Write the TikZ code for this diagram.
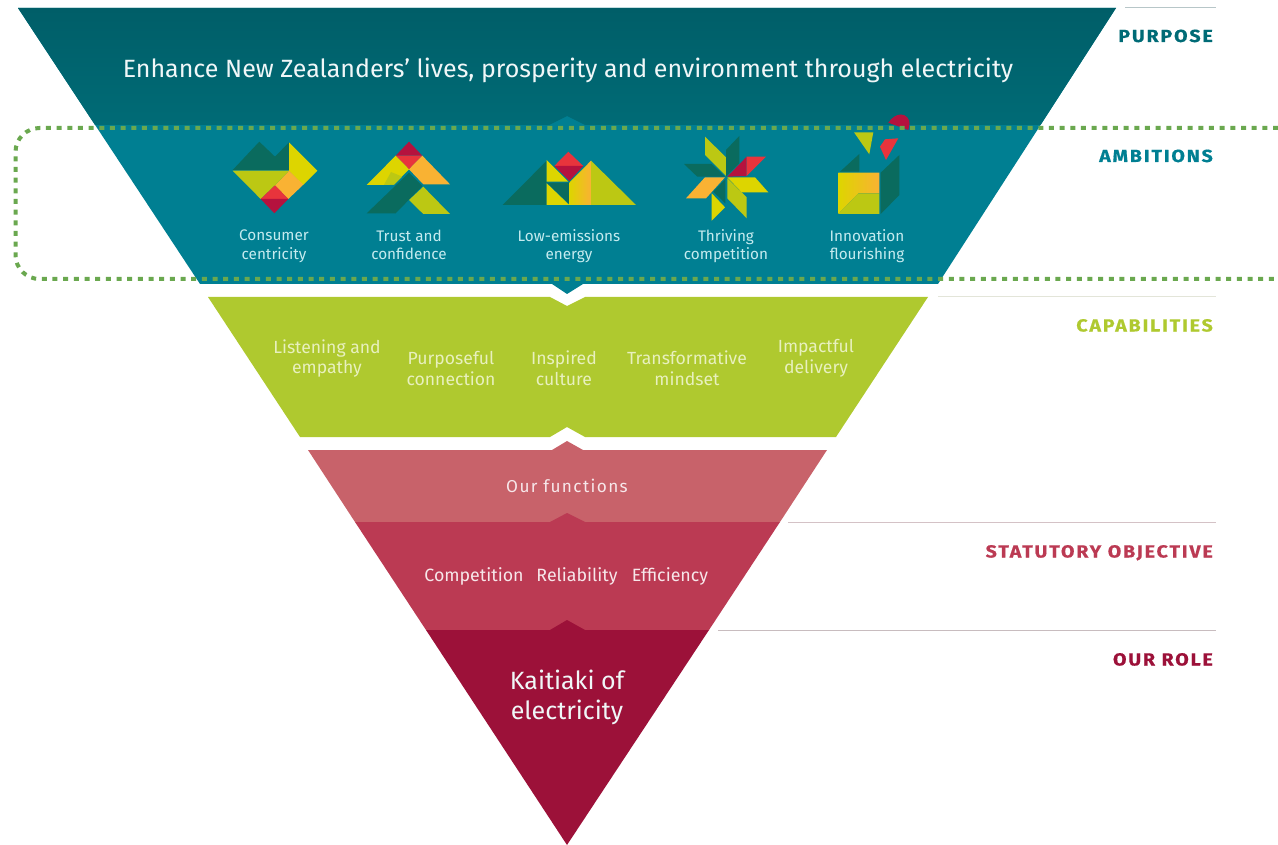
\documentclass[tikz,border=0pt]{standalone}
\usepackage{fontspec}
\setmainfont{Fira Sans}
\newfontfamily\lblfont[LetterSpace=10.5,FakeStretch=1.12,FakeBold=0.6]{Fira Sans}
\newfontfamily\trackfont[LetterSpace=8]{Fira Sans}
\definecolor{tealdarktop}{HTML}{005E68}
\definecolor{tealdarkbot}{HTML}{006B76}
\definecolor{tealmid}{HTML}{007F92}
\definecolor{lime}{HTML}{AFC92F}
\definecolor{redlight}{HTML}{C8626A}
\definecolor{redmid}{HTML}{BB3A53}
\definecolor{reddark}{HTML}{9C1139}
\definecolor{idark}{HTML}{0A6B5E}
\definecolor{iyellow}{HTML}{DDD500}
\definecolor{ilime}{HTML}{BCC813}
\definecolor{iorange}{HTML}{F9B233}
\definecolor{ired}{HTML}{E8343C}
\definecolor{icrim}{HTML}{B5123E}
\definecolor{dots}{HTML}{6AA84F}
\definecolor{ambtext}{HTML}{C5EBEF}
\definecolor{captext}{HTML}{E8F0BE}
\tikzset{
  bigtxt/.style={text=white!94!tealmid,font=\fontsize{25}{30}\selectfont,align=center,inner sep=0pt},
  ambtxt/.style={text=ambtext,font=\fontsize{15.3}{18.5}\selectfont,align=center,inner sep=0pt},
  captxt/.style={text=captext,font=\fontsize{17.6}{20.5}\selectfont,align=center,inner sep=0pt},
  redtxt/.style={text=white!88!redmid,font=\fontsize{17.8}{20}\selectfont,align=center,inner sep=0pt},
  lbl/.style={font=\lblfont\bfseries\fontsize{17.5}{20}\selectfont,anchor=base east,inner sep=0pt},
  rulel/.style={line width=1pt}
}
\begin{document}
\begin{tikzpicture}[x=1pt,y=-1pt]
\useasboundingbox (0,0) rectangle (1278,845);
\fill[tealmid] (18,8) -- (1116,8) -- (938,284) -- (583,284) -- (567,294) -- (552,284) -- (200,284) -- cycle;
\shade[top color=tealdarktop,bottom color=tealdarkbot] (18,8) -- (1116,8) -- (1040.5,125) -- (585,125) -- (567,116) -- (549,125) -- (95,125) -- cycle;
\fill[lime] (208,297) -- (550,297) -- (567,306) -- (585,297) -- (928,297) -- (836,437) -- (585,437) -- (567,427) -- (550,437) -- (300,437) -- cycle;
\fill[redlight] (308,450) -- (552,450) -- (567,441) -- (583,450) -- (827,450) -- (780,522) -- (355,522) -- cycle;
\fill[redmid] (355,522) -- (550,522) -- (567,513) -- (585,522) -- (780,522) -- (709,630) -- (426,630) -- cycle;
\fill[reddark] (426,630) -- (550,630) -- (567,620) -- (585,630) -- (709,630) -- (567,845) -- cycle;
% rules
\draw[rulel,color=tealmid!25!gray!45] (1125,8) -- (1216,8);
\draw[rulel,color=lime!30!gray!25] (938,297) -- (1216,297);
\draw[rulel,color=redmid!35!gray!40] (788,522) -- (1216,522);
\draw[rulel,color=reddark!20!gray!45] (718,630) -- (1216,630);
% icon 1
\fill[idark] (232.7,170) -- (259.3,141.7) -- (275,156.7) -- (289,142.3) -- (289,170) -- cycle;
\fill[iyellow] (289,142.3) -- (317.3,170.7) -- (303,185) -- (289,170.7) -- cycle;
\fill[iorange] (289,170.7) -- (303.3,184.7) -- (288.3,199) -- (275,185.3) -- cycle;
\fill[ilime] (232.7,170.7) -- (289,170.7) -- (275,185.3) -- (260.7,199) -- cycle;
\fill[ired] (275,185.3) -- (288.3,199) -- (260.7,199) -- cycle;
\fill[icrim] (260.7,199) -- (288.3,199) -- (274.3,213.3) -- cycle;
% icon 2
\fill[icrim] (409,141.7) -- (422.3,155.7) -- (395.7,155.7) -- cycle;
\fill[ired] (395.7,155.7) -- (422.3,155.7) -- (409,169.3) -- cycle;
\fill[iyellow] (395.7,155.7) -- (409,169.3) -- (394,184.7) -- (366.7,185) -- cycle;
\fill[ilime] (391,172) -- (402,176.5) -- (394,184.7) -- (384,184.8) -- cycle;
\fill[iorange] (422.3,155.7) -- (450,184.3) -- (423.3,184.3) -- (409,169.3) -- cycle;
\fill[idark] (409,172.7) -- (422.3,186) -- (395.7,213.3) -- (366.7,213.3) -- cycle;
\fill[ilime] (409,200) -- (423.3,214) -- (450,214) -- (423.3,186.7) -- cycle;
% icon 3
\fill[idark] (502.7,205) -- (546.7,160.7) -- (546.7,205) -- cycle;
\fill[iyellow] (546.7,160) -- (568.3,181.7) -- (546.7,181.7) -- cycle;
\fill[idark] (546.7,182.7) -- (569.3,182.7) -- (569.3,204) -- cycle;
\fill[iyellow] (546.7,183.3) -- (569.3,205) -- (546.7,205) -- cycle;
\fill[ired] (568.3,151.7) -- (583.3,166) -- (554.3,166) -- cycle;
\fill[icrim] (554.3,166) -- (583.3,166) -- (569.3,181) -- cycle;
\shade[left color=iyellow,middle color=iorange,right color=iorange] (569.3,182.7) -- (591,160.7) -- (591,205) -- (569.3,205) -- cycle;
\fill[ilime] (591,160.7) -- (636,205) -- (591,205) -- cycle;
% icon 4
\fill[ilime] (705,136.7) -- (726,157.3) -- (726,176) -- (705,155) -- cycle;
\fill[idark] (739.3,136) -- (739.3,163.3) -- (726,176.7) -- (726,150) -- cycle;
\fill[icrim] (727.3,176.7) -- (746.7,156.7) -- (746.7,176) -- cycle;
\fill[ired] (746.7,156.7) -- (766,156.7) -- (746.7,176) -- cycle;
\fill[iyellow] (727.3,177.3) -- (755,177.3) -- (768.3,192.3) -- (741.7,192.3) -- cycle;
\fill[ilime] (727.3,178.3) -- (746.7,197.3) -- (746.7,218.3) -- (727.3,198.3) -- cycle;
\fill[iyellow] (711.7,193.3) -- (725,207.3) -- (711.7,220.7) -- cycle;
\fill[iorange] (705,177.3) -- (725,177.3) -- (706,198.3) -- (686,198.3) -- cycle;
\fill[idark] (713.3,191.7) -- (725.3,179.3) -- (725.3,203.3) -- cycle;
\fill[idark] (684,164) -- (711.7,164) -- (725,176.7) -- (697.3,176.7) -- cycle;
% icon 5
\shade[left color=iyellow,middle color=iyellow,right color=iorange] (838.3,172.7) -- (879.3,172.7) -- (879.3,193.3) -- (858.3,193.3) -- (838.3,214) -- cycle;
\fill[ilime] (838.3,214) -- (858.3,193.3) -- (879.3,193.3) -- (879.3,214) -- cycle;
\fill[idark] (880.7,172.7) -- (899.3,155) -- (899.3,195) -- (880.7,214) -- cycle;
\fill[idark] (840,171.7) -- (859.3,154) -- (859.3,171.7) -- cycle;
\fill[ilime] (854,132.3) -- (873.3,132.3) -- (869.3,154.3) -- cycle;
\fill[ired] (885,139.3) -- (898.3,138.3) -- (886,160) -- (880,146.7) -- cycle;
\fill[icrim] (888.3,122.7) .. controls (892,117) and (897,114.5) .. (901,114.5) .. controls (906,114.5) and (910,119) .. (909.5,124) -- (908.3,130) -- cycle;
% texts
\node[bigtxt] (purpose) at (568,70.5) {Enhance New Zealanders’ lives, prosperity and environment through electricity};
\node[ambtxt] (a1) at (274,246.5) {Consumer\\centricity};
\node[ambtxt] (a2) at (409,245) {Trust and\\confidence};
\node[ambtxt] (a3) at (569,246) {Low-emissions\\energy};
\node[ambtxt] (a4) at (726,246) {Thriving\\competition};
\node[ambtxt] (a5) at (867,246) {Innovation\\flourishing};
\node[captxt] (c1) at (327,358.5) {Listening and\\empathy};
\node[captxt] (c2) at (451,368.5) {Purposeful\\connection};
\node[captxt] (c3) at (564,368) {Inspired\\culture};
\node[captxt] (c4) at (687,368) {Transformative\\mindset};
\node[captxt] (c5) at (816,358.5) {Impactful\\delivery};
\node[redtxt,font=\trackfont\fontsize{17.2}{20}\selectfont] (f) at (567,486) {Our functions};
\node[redtxt] (s1) at (474,576.5) {Competition};
\node[redtxt] (s2) at (577,576.5) {Reliability};
\node[redtxt] (s3) at (670,576.5) {Efficiency};
\node[bigtxt] (k) at (567,697) {Kaitiaki of\\electricity};
\node[lbl,text=tealdarkbot] (l1) at (1213,42) {PURPOSE};
\node[lbl,text=tealmid] (l2) at (1213,162) {AMBITIONS};
\node[lbl,text=lime] (l3) at (1213,331.5) {CAPABILITIES};
\node[lbl,text=redmid] (l4) at (1213,557.5) {STATUTORY OBJECTIVE};
\node[lbl,text=reddark] (l5) at (1213,665.5) {OUR ROLE};
% dotted frame
\draw[dots,line width=4pt,dash pattern=on 5pt off 5.67pt,rounded corners=24pt] (1278,128) -- (15.5,128) -- (15.5,279) -- (1278,279);
\end{tikzpicture}
\end{document}
